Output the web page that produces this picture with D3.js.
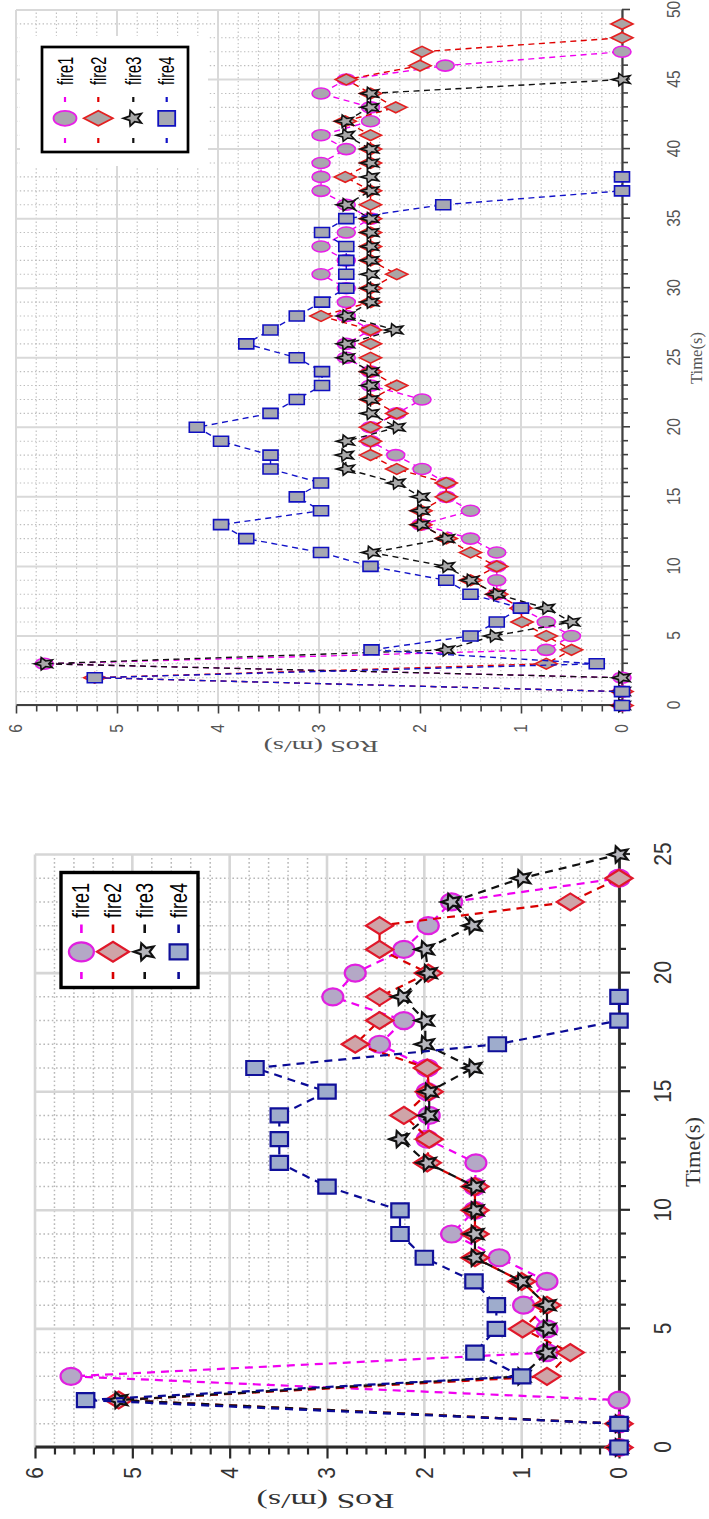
<!DOCTYPE html>
<html>
<head>
<meta charset="utf-8">
<script src="https://cdn.jsdelivr.net/npm/d3@7"></script>
<style>
  body { margin: 0; background: #fff; }
  svg { display: block; }
</style>
</head>
<body>
<svg id="fig" width="709" height="1519"></svg>
<script>
// ---- Rate of spread (m/s) per second, long run (upper panel) ----
const longFire1 = [0,0,0,5.72,0.75,0.5,0.75,1.0,1.24,1.24,1.24,1.24,1.5,1.99,1.5,1.74,1.74,1.98,2.24,2.49,2.49,2.23,1.98,2.49,2.49,2.73,2.73,2.49,2.73,2.73,2.73,2.98,2.73,2.98,2.73,2.49,2.73,2.98,2.98,2.98,2.73,2.98,2.49,2.49,2.98,2.73,1.75,0];
const longFire2 = [0,0,5.22,0.75,0.5,0.75,0.99,1.0,1.24,1.5,1.24,1.5,1.74,1.99,1.99,1.74,1.74,2.23,2.49,2.49,2.49,2.23,2.49,2.23,2.49,2.49,2.49,2.49,2.98,2.49,2.49,2.23,2.49,2.49,2.49,2.49,2.49,2.49,2.74,2.49,2.49,2.49,2.74,2.24,2.49,2.73,2.0,1.98,0,0];
const longFire3 = [0,0,0,5.72,1.74,1.27,0.5,0.75,1.24,1.5,1.74,2.48,1.74,1.99,1.99,1.99,2.23,2.73,2.74,2.73,2.23,2.49,2.49,2.49,2.49,2.73,2.73,2.25,2.73,2.49,2.49,2.49,2.49,2.49,2.49,2.49,2.73,2.49,2.49,2.49,2.49,2.73,2.74,2.49,2.49,0];
const longFire4 = [0,0,5.22,0.25,2.48,1.5,1.24,1.0,1.5,1.74,2.49,2.98,3.72,3.97,2.98,3.22,2.98,3.48,3.48,3.97,4.21,3.48,3.22,2.97,2.97,3.22,3.72,3.48,3.22,2.97,2.73,2.73,2.73,2.73,2.97,2.73,1.77,0,0];

// ---- Rate of spread (m/s) per second, short run (lower panel) ----
const shortFire1 = [0,0,0,5.63,0.74,0.74,0.98,0.74,1.23,1.72,1.48,1.48,1.47,1.97,1.95,1.97,1.97,2.46,2.21,2.94,2.71,2.21,1.96,1.72,0];
const shortFire2 = [0,0,5.14,0.74,0.5,0.99,0.74,1.0,1.48,1.48,1.48,1.48,1.97,1.95,2.21,1.95,1.97,2.71,2.46,2.46,1.96,2.46,2.46,0.5,0];
const shortFire3 = [0,0,5.14,1.0,0.74,0.74,0.74,1.0,1.48,1.48,1.48,1.48,1.97,2.25,1.95,1.95,1.5,1.99,1.99,2.23,1.96,1.99,1.5,1.72,1.0,0];
const shortFire4 = [0,0,5.48,1.0,1.48,1.26,1.26,1.49,2.0,2.25,2.25,3.0,3.49,3.49,3.49,3.0,3.74,1.25,0,0];

// ---- Ticks and labels ----
const seriesNames = ["fire1", "fire2", "fire3", "fire4"];
const longTimeTicks = [0, 5, 10, 15, 20, 25, 30, 35, 40, 45, 50];
const shortTimeTicks = [0, 5, 10, 15, 20, 25];
const rosTicks = [0, 1, 2, 3, 4, 5, 6];
const timeLabel = "Time(s)";
const rosLabel = "RoS  (m/s)";

const svg = d3.select("#fig");

// Marker outline centred on 0,0; ax = half size along local x, ay = along local y
function markerPath(type, ax, ay) {
  if (type === "circle") {
    return `M${-ax},0A${ax},${ay} 0 1,0 ${ax},0A${ax},${ay} 0 1,0 ${-ax},0Z`;
  }
  if (type === "diamond") return `M0,${-ay}L${ax},0L0,${ay}L${-ax},0Z`;
  if (type === "square") return `M${-ax},${-ay}H${ax}V${ay}H${-ax}Z`;
  // five-pointed star, tip pointing to local "up" (-y)
  const pts = d3.range(10).map(k => {
    const r = k % 2 ? 0.45 : 1;
    const a = -Math.PI / 2 + k * Math.PI / 5;
    return [r * Math.cos(a) * ax, r * Math.sin(a) * ay];
  });
  return "M" + pts.map(p => p.join(",")).join("L") + "Z";
}

// Each panel is laid out as an ordinary time/RoS plot, then turned a quarter turn
function drawPanel(p) {
  const g = svg.append("g").attr("transform", `translate(${p.X0},${p.Y0}) rotate(-90)`);
  const x = d3.scaleLinear().domain([0, p.tMax]).range([0, p.W]);
  const y = d3.scaleLinear().domain([0, 6]).range([p.H, 0]);

  const tMinor = d3.range(0, p.tMax + 1).filter(v => v % 5 !== 0);
  const rMinor = d3.range(1, 30).filter(i => i % 5 !== 0).map(i => i / 5);

  // minor grid (dotted)
  const grid = g.append("g");
  grid.selectAll("line.tm").data(tMinor).join("line")
    .attr("x1", d => x(d)).attr("x2", d => x(d)).attr("y1", 0).attr("y2", p.H)
    .attr("stroke", p.minorColor).attr("stroke-width", p.minorW).attr("stroke-dasharray", p.minorDash);
  grid.selectAll("line.rm").data(rMinor).join("line")
    .attr("x1", 0).attr("x2", p.W).attr("y1", d => y(d)).attr("y2", d => y(d))
    .attr("stroke", p.minorColor).attr("stroke-width", p.minorW).attr("stroke-dasharray", p.minorDash);
  // major grid
  grid.selectAll("line.tM").data(p.timeTicks).join("line")
    .attr("x1", d => x(d)).attr("x2", d => x(d)).attr("y1", 0).attr("y2", p.H)
    .attr("stroke", p.majorColor).attr("stroke-width", p.majorW);
  grid.selectAll("line.rM").data(rosTicks).join("line")
    .attr("x1", 0).attr("x2", p.W).attr("y1", d => y(d)).attr("y2", d => y(d))
    .attr("stroke", p.majorColor).attr("stroke-width", p.majorW);

  // time axis
  const xa = g.append("g").attr("transform", `translate(0,${p.H})`)
    .call(d3.axisBottom(x).tickValues(p.timeTicks).tickSize(p.majorTick).tickSizeOuter(0).tickFormat(d3.format("d")));
  xa.append("g").call(d3.axisBottom(x).tickValues(tMinor).tickSize(p.minorTick).tickFormat(""))
    .select(".domain").remove();
  // RoS axis
  const ya = g.append("g")
    .call(d3.axisLeft(y).tickValues(rosTicks).tickSize(p.majorTick).tickSizeOuter(0).tickFormat(d3.format("d")));
  ya.append("g").call(d3.axisLeft(y).tickValues(rMinor).tickSize(p.minorTick).tickFormat(""))
    .select(".domain").remove();

  [xa, ya].forEach(a => {
    a.selectAll(".domain").attr("stroke", p.axisColor).attr("stroke-width", p.axisW);
    a.selectAll(".tick line").attr("stroke", p.axisColor).attr("stroke-width", p.tickW);
  });
  xa.selectAll(".tick text")
    .attr("y", null).attr("dy", null)
    .attr("text-anchor", "middle").attr("dominant-baseline", "central")
    .attr("transform", `translate(0,${p.xLabelOff}) scale(1,${p.tickStretch})`);
  ya.selectAll(".tick text")
    .attr("x", null).attr("dy", null)
    .attr("text-anchor", "middle").attr("dominant-baseline", "central")
    .attr("transform", `translate(${-p.yLabelOff},0) scale(1,${p.tickStretch})`);
  g.selectAll(".tick text")
    .attr("font-family", p.tickFont).attr("font-size", p.tickSize).attr("fill", p.tickColor);

  // axis titles
  g.append("text")
    .attr("transform", `translate(${p.timeTitle[0]},${p.timeTitle[1]})`)
    .attr("text-anchor", "middle").attr("dominant-baseline", "central")
    .attr("font-family", "'Liberation Serif', 'Times New Roman', serif")
    .attr("font-size", p.timeTitle[2]).attr("fill", p.titleColor)
    .attr("textLength", p.timeTitle[3]).attr("lengthAdjust", "spacingAndGlyphs")
    .text(timeLabel);
  g.append("text")
    .attr("transform", `translate(${p.rosTitle[0]},${p.rosTitle[1]}) rotate(-90)`)
    .attr("text-anchor", "middle").attr("dominant-baseline", "central")
    .attr("font-family", "'Liberation Serif', 'Times New Roman', serif")
    .attr("font-size", p.rosTitle[2]).attr("fill", p.titleColor)
    .attr("textLength", p.rosTitle[3]).attr("lengthAdjust", "spacingAndGlyphs")
    .text(rosLabel);

  // series: dashed line, then markers
  const line = d3.line().x((d, i) => x(i)).y(d => y(d));
  p.series.forEach(s => {
    g.append("path").attr("d", line(s.values))
      .attr("fill", "none").attr("stroke", s.color)
      .attr("stroke-width", p.lineW).attr("stroke-dasharray", p.lineDash);
    g.append("g").selectAll("path").data(s.values).join("path")
      .attr("transform", (d, i) => `translate(${x(i)},${y(d)})`)
      .attr("d", markerPath(s.marker, s.size[0], s.size[1]))
      .attr("fill", s.fill).attr("stroke", s.edge).attr("stroke-width", p.edgeW)
      .attr("stroke-linejoin", "miter");
  });

  // legend
  const L = p.legend;
  const lg = g.append("g");
  if (L.bg) {
    lg.append("rect").attr("x", L.bg[0]).attr("y", L.bg[1])
      .attr("width", L.bg[2] - L.bg[0]).attr("height", L.bg[3] - L.bg[1]).attr("fill", "#fff");
  }
  lg.append("rect").attr("x", L.box[0]).attr("y", L.box[1])
    .attr("width", L.box[2] - L.box[0]).attr("height", L.box[3] - L.box[1])
    .attr("fill", "#fff").attr("stroke", "#000").attr("stroke-width", L.boxW);
  p.series.forEach((s, k) => {
    const r = L.rows[k];
    lg.append("line").attr("x1", L.line[0]).attr("x2", L.line[1]).attr("y1", r).attr("y2", r)
      .attr("stroke", s.color).attr("stroke-width", L.lineW).attr("stroke-dasharray", L.dash);
    lg.append("path").attr("transform", `translate(${L.markerAt},${r})`)
      .attr("d", markerPath(s.marker, L.sizes[k][0], L.sizes[k][1]))
      .attr("fill", s.fill).attr("stroke", s.edge).attr("stroke-width", L.edgeW);
    lg.append("text").attr("transform", `translate(${L.textAt},${r}) scale(1,${L.stretch})`)
      .attr("dominant-baseline", "central")
      .attr("font-family", "'Liberation Sans', Arial, sans-serif")
      .attr("font-size", L.font).attr("fill", "#000")
      .text(s.name);
  });
}

// Upper panel: 0-50 s
drawPanel({
  X0: 16, Y0: 705.5, W: 695.5, H: 606, tMax: 50,
  timeTicks: longTimeTicks,
  minorColor: "#bdbdbd", minorW: 1.1, minorDash: "1.4,2.4",
  majorColor: "#d9d9d9", majorW: 2,
  axisColor: "#404040", axisW: 2.2, tickW: 1.6, majorTick: 8, minorTick: 6,
  xLabelOff: 52, yLabelOff: 23, tickStretch: 1.15,
  tickFont: "'Liberation Sans', Arial, sans-serif", tickSize: 15.5, tickColor: "#555",
  titleColor: "#555",
  timeTitle: [347.5, 680.5, 16.5, 52],
  rosTitle: [-40.5, 305, 17, 115],
  lineW: 1.4, lineDash: "6,4.5", edgeW: 1.6,
  series: [
    { name: seriesNames[0], values: longFire1, color: "#f000f0", edge: "#e81ee8", fill: "#aaa6ae", marker: "circle", size: [5.5, 9] },
    { name: seriesNames[1], values: longFire2, color: "#e00000", edge: "#e42020", fill: "#aba5a5", marker: "diamond", size: [5.4, 11] },
    { name: seriesNames[2], values: longFire3, color: "#111", edge: "#111", fill: "#a9a9a9", marker: "star", size: [6.5, 10] },
    { name: seriesNames[3], values: longFire4, color: "#1212c8", edge: "#1010c0", fill: "#a6a8b2", marker: "square", size: [5, 7.5] }
  ],
  legend: {
    bg: [539.5, 4, 669.5, 192],
    box: [553.5, 26, 658.5, 172], boxW: 2.7,
    rows: [49, 82.3, 117.3, 150.7],
    line: [562.5, 608.5], dash: "5,36,5", lineW: 2.2,
    markerAt: 587.2, textAt: 620.5, font: 14.5, stretch: 1.5, edgeW: 1.8,
    sizes: [[7.5, 11.5], [7.5, 14.5], [8, 10], [7.5, 8.5]]
  }
});

// Lower panel: 0-25 s
drawPanel({
  X0: 35, Y0: 1447.5, W: 593, H: 584, tMax: 25,
  timeTicks: shortTimeTicks,
  minorColor: "#b8b8b8", minorW: 1.5, minorDash: "1.6,2.6",
  majorColor: "#d6d6d6", majorW: 2.6,
  axisColor: "#2a2a2a", axisW: 2.8, tickW: 2.2, majorTick: 11, minorTick: 7,
  xLabelOff: 44, yLabelOff: 25.5, tickStretch: 1.1,
  tickFont: "'Liberation Sans', Arial, sans-serif", tickSize: 21, tickColor: "#333",
  titleColor: "#333",
  timeTitle: [295.5, 657, 22, 70],
  rosTitle: [-53.5, 290.6, 20, 138],
  lineW: 2.2, lineDash: "8,6", edgeW: 2.2,
  series: [
    { name: seriesNames[0], values: shortFire1, color: "#f000f0", edge: "#e020e0", fill: "#b4a8c6", marker: "circle", size: [8.5, 10.5] },
    { name: seriesNames[1], values: shortFire2, color: "#d80000", edge: "#e0182a", fill: "#cfa4a8", marker: "diamond", size: [8.5, 13.5] },
    { name: seriesNames[2], values: shortFire3, color: "#111", edge: "#111", fill: "#b6b6bc", marker: "star", size: [8.5, 10.5] },
    { name: seriesNames[3], values: shortFire4, color: "#0a0a96", edge: "#10109a", fill: "#9eaccc", marker: "square", size: [7, 8.7] }
  ],
  legend: {
    bg: null,
    box: [460, 26, 575, 163], boxW: 3.4,
    rows: [46.4, 78, 109.7, 143.6],
    line: [468.5, 523], dash: "7,39,8.5", lineW: 2.6,
    markerAt: 495.7, textAt: 529.5, font: 18, stretch: 1.35, edgeW: 2.2,
    sizes: [[9.5, 12.5], [10, 16], [9, 11], [7.5, 9]]
  }
});
</script>
</body>
</html>
